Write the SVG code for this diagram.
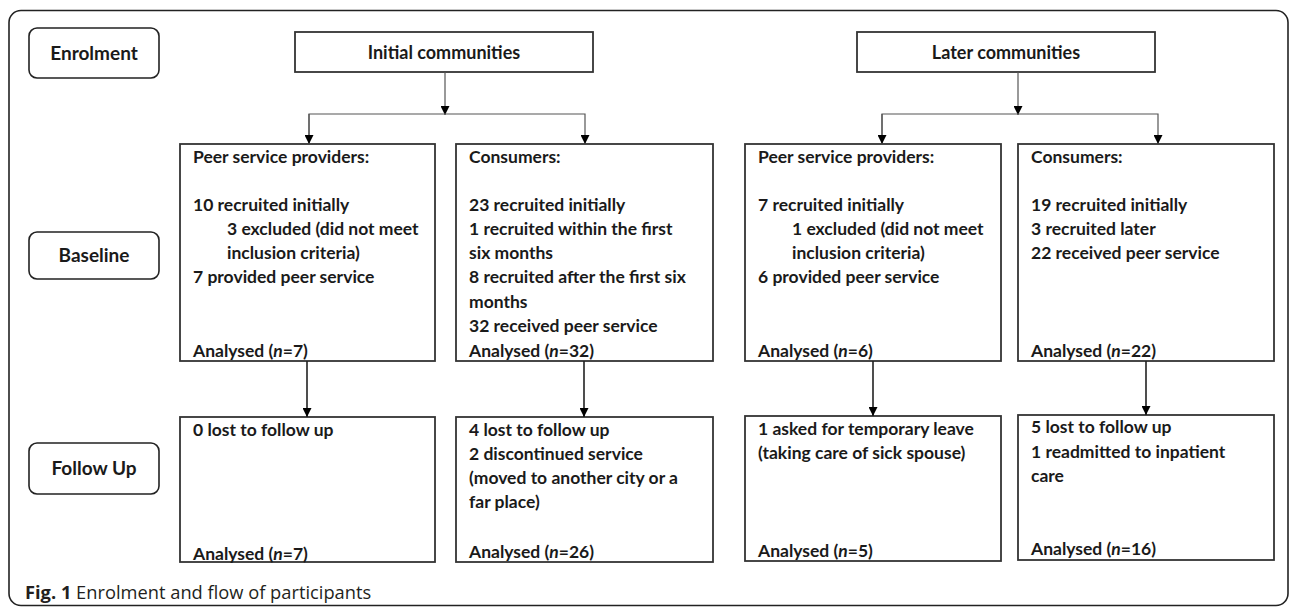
<svg xmlns="http://www.w3.org/2000/svg" width="1290" height="607" viewBox="0 0 1290 607">
<defs>
<marker id="ah" viewBox="0 0 10 10" refX="10" refY="5" markerWidth="9" markerHeight="9" markerUnits="userSpaceOnUse" orient="auto">
<path d="M0,0 L10,5 L0,10 z" fill="#000"/>
</marker>
<style>
.frame{fill:none;stroke:#222;stroke-width:1.6}
.lab{fill:#fff;stroke:#222;stroke-width:1.6}
.box{fill:#fff;stroke:#333;stroke-width:1.8}
.t{font-family:Lato,"Liberation Sans",sans-serif;font-weight:bold;font-size:17.5px;fill:#1a1a1a}
.h{font-family:Lato,"Liberation Sans",sans-serif;font-weight:bold;font-size:18px;fill:#1a1a1a;text-anchor:middle}
.lt{font-family:Lato,"Liberation Sans",sans-serif;font-weight:bold;font-size:19px;fill:#1a1a1a;text-anchor:middle}
.thin{fill:none;stroke:#555;stroke-width:1.2}
.thick{fill:none;stroke:#222;stroke-width:1.6}
.cap{font-family:"Open Sans","Liberation Sans",sans-serif;font-size:18.3px;fill:#231f20}
</style>
</defs>
<rect class="frame" x="9" y="10.5" width="1279" height="595" rx="12"/>

<g id="lbl-enrolment"><rect class="lab" x="29" y="28" width="130" height="50" rx="8"/><text class="lt" x="94" y="59.5">Enrolment</text></g>
<g id="lbl-baseline"><rect class="lab" x="29" y="232" width="130" height="47" rx="8"/><text class="lt" x="94" y="261.5">Baseline</text></g>
<g id="lbl-followup"><rect class="lab" x="29" y="443" width="130" height="51" rx="8"/><text class="lt" x="94" y="475">Follow Up</text></g>

<g id="initial"><rect class="box" x="295" y="32" width="298" height="40"/><text class="h" x="444" y="59">Initial communities</text></g>
<g id="later"><rect class="box" x="857" y="32" width="298" height="40"/><text class="h" x="1006" y="59">Later communities</text></g>

<g id="b1"><rect class="box" x="180" y="144" width="255" height="217"/>
<text class="t" x="193" y="163">Peer service providers:</text>
<text class="t" x="193" y="211">10 recruited initially</text>
<text class="t" x="227" y="235">3 excluded (did not meet</text>
<text class="t" x="227" y="259">inclusion criteria)</text>
<text class="t" x="193" y="283">7 provided peer service</text>
<text class="t" x="193" y="357">Analysed (<tspan font-style="italic">n</tspan>=7)</text>
</g>
<g id="b2"><rect class="box" x="456" y="144" width="257" height="217"/>
<text class="t" x="469" y="163">Consumers:</text>
<text class="t" x="469" y="211">23 recruited initially</text>
<text class="t" x="469" y="235">1 recruited within the first</text>
<text class="t" x="469" y="259">six months</text>
<text class="t" x="469" y="283">8 recruited after the first six</text>
<text class="t" x="469" y="308">months</text>
<text class="t" x="469" y="332">32 received peer service</text>
<text class="t" x="469" y="357">Analysed (<tspan font-style="italic">n</tspan>=32)</text>
</g>
<g id="b3"><rect class="box" x="745" y="144" width="256" height="217"/>
<text class="t" x="758" y="163">Peer service providers:</text>
<text class="t" x="758" y="211">7 recruited initially</text>
<text class="t" x="792" y="235">1 excluded (did not meet</text>
<text class="t" x="792" y="259">inclusion criteria)</text>
<text class="t" x="758" y="283">6 provided peer service</text>
<text class="t" x="758" y="357">Analysed (<tspan font-style="italic">n</tspan>=6)</text>
</g>
<g id="b4"><rect class="box" x="1018" y="144" width="256" height="217"/>
<text class="t" x="1031" y="163">Consumers:</text>
<text class="t" x="1031" y="211">19 recruited initially</text>
<text class="t" x="1031" y="235">3 recruited later</text>
<text class="t" x="1031" y="259">22 received peer service</text>
<text class="t" x="1031" y="357">Analysed (<tspan font-style="italic">n</tspan>=22)</text>
</g>

<g id="f1"><rect class="box" x="180" y="417" width="255" height="145"/>
<text class="t" x="193" y="436">0 lost to follow up</text>
<text class="t" x="193" y="560">Analysed (<tspan font-style="italic">n</tspan>=7)</text>
</g>
<g id="f2"><rect class="box" x="456" y="417" width="257" height="145"/>
<text class="t" x="469" y="436">4 lost to follow up</text>
<text class="t" x="469" y="460">2 discontinued service</text>
<text class="t" x="469" y="484">(moved to another city or a</text>
<text class="t" x="469" y="508">far place)</text>
<text class="t" x="469" y="558">Analysed (<tspan font-style="italic">n</tspan>=26)</text>
</g>
<g id="f3"><rect class="box" x="745" y="416" width="256" height="145"/>
<text class="t" x="758" y="435">1 asked for temporary leave</text>
<text class="t" x="758" y="459">(taking care of sick spouse)</text>
<text class="t" x="758" y="557">Analysed (<tspan font-style="italic">n</tspan>=5)</text>
</g>
<g id="f4"><rect class="box" x="1018" y="415" width="256" height="145"/>
<text class="t" x="1031" y="433">5 lost to follow up</text>
<text class="t" x="1031" y="458">1 readmitted to inpatient</text>
<text class="t" x="1031" y="482">care</text>
<text class="t" x="1031" y="555">Analysed (<tspan font-style="italic">n</tspan>=16)</text>
</g>

<g id="connectors">
<line class="thin" x1="445" y1="72" x2="445" y2="115" marker-end="url(#ah)"/>
<polyline class="thin" points="309,144 309,114 585,114 585,144" marker-end="url(#ah)"/>
<line class="thin" x1="309" y1="114" x2="309" y2="144" marker-end="url(#ah)"/>
<line class="thin" x1="1018" y1="72" x2="1018" y2="115" marker-end="url(#ah)"/>
<polyline class="thin" points="882,144 882,114 1158,114 1158,144" marker-end="url(#ah)"/>
<line class="thin" x1="882" y1="114" x2="882" y2="144" marker-end="url(#ah)"/>
<line class="thick" x1="307" y1="361" x2="307" y2="417" marker-end="url(#ah)"/>
<line class="thick" x1="584" y1="361" x2="584" y2="417" marker-end="url(#ah)"/>
<line class="thick" x1="873" y1="361" x2="873" y2="416" marker-end="url(#ah)"/>
<line class="thick" x1="1146" y1="361" x2="1146" y2="415" marker-end="url(#ah)"/>
</g>

<text class="cap" x="25" y="599"><tspan font-weight="bold">Fig. 1</tspan> Enrolment and flow of participants</text>
</svg>
